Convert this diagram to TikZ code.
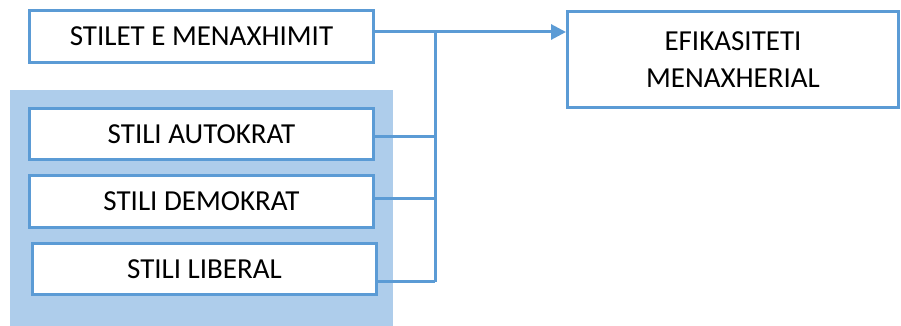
\documentclass[tikz,border=0pt]{standalone}
\usepackage{fontspec}
\setmainfont{Carlito}
\usetikzlibrary{arrows.meta}
\definecolor{edgeblue}{HTML}{5B9BD5}
\definecolor{panelblue}{HTML}{AECDEB}
\tikzset{
  box/.style={draw=edgeblue, line width=3pt, fill=white, inner sep=0pt,
    font=\fontsize{29}{37}\selectfont, align=center},
  conn/.style={draw=edgeblue, line width=3pt},
  tip/.style={-{Triangle[width=15pt,length=15pt]}}
}
\begin{document}
\begin{tikzpicture}[x=1pt,y=-1pt]
  \useasboundingbox (0,0) rectangle (901,326);
  % shaded panel behind the three styles
  \node[fill=panelblue, inner sep=0pt, minimum width=383pt, minimum height=236pt] (panel) at (201.5,208) {};
  % boxes
  \node[box, minimum width=344pt, minimum height=52pt] (top) at (201.5,36.5) {STILET E MENAXHIMIT};
  \node[box, minimum width=344pt, minimum height=51pt] (aut) at (201.5,134) {STILI AUTOKRAT};
  \node[box, minimum width=344pt, minimum height=52pt] (dem) at (201.5,201.5) {STILI DEMOKRAT};
  \node[box, minimum width=344pt, minimum height=51pt] (lib) at (204.5,269) {STILI LIBERAL};
  \node[box, minimum width=331pt, minimum height=96pt] (eff) at (733,59.5) {EFIKASITETI\\MENAXHERIAL};
  % collecting bar
  \coordinate (jt) at (435,32);
  \coordinate (jb) at (435,282);
  \draw[conn] (jt) -- (jb);
  \draw[conn, tip] (top.east |- jt) -- (eff.west |- jt);
  \draw[conn] ([yshift=-2pt]aut.east) -- ([yshift=-2pt]aut.east -| jt);
  \draw[conn] ([yshift=3.5pt]dem.east) -- ([yshift=3.5pt]dem.east -| jt);
  \draw[conn] ([xshift=-3pt]lib.east |- 0,281) -- (jt |- 0,281);
\end{tikzpicture}
\end{document}
